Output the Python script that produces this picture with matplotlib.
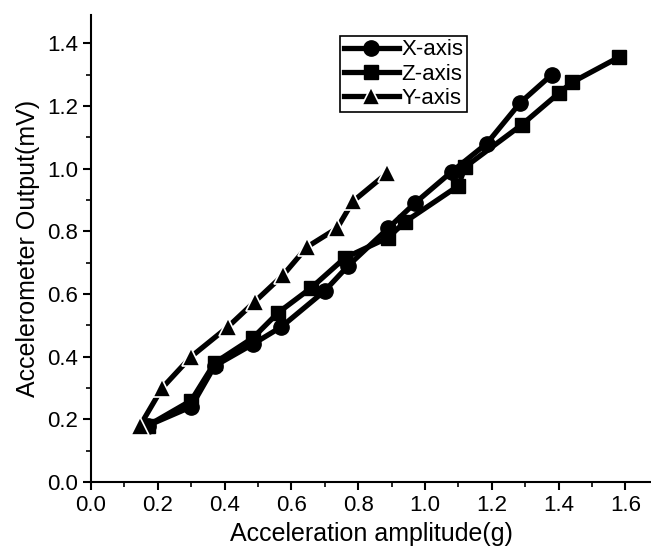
import matplotlib
matplotlib.use('Agg')
import matplotlib.pyplot as plt
from matplotlib.ticker import MultipleLocator

plt.rcParams['font.family'] = ['Liberation Sans', 'DejaVu Sans']

# X-axis (circles)
x_acc = [0.17, 0.30, 0.37, 0.485, 0.57, 0.70, 0.77, 0.89, 0.97, 1.08, 1.185, 1.285, 1.38]
x_out = [0.18, 0.24, 0.37, 0.44, 0.495, 0.61, 0.69, 0.81, 0.89, 0.99, 1.08, 1.21, 1.30]

# Z-axis (squares)
z_acc = [0.17, 0.30, 0.37, 0.485, 0.56, 0.66, 0.76, 0.89, 0.94, 1.10, 1.12, 1.29, 1.40, 1.44, 1.58]
z_out = [0.18, 0.26, 0.38, 0.46, 0.54, 0.62, 0.715, 0.78, 0.83, 0.945, 1.005, 1.14, 1.24, 1.275, 1.355]

# Y-axis (triangles)
y_acc = [0.147, 0.213, 0.30, 0.41, 0.49, 0.575, 0.647, 0.737, 0.784, 0.886]
y_out = [0.18, 0.30, 0.40, 0.495, 0.575, 0.66, 0.75, 0.81, 0.895, 0.985]

fig = plt.figure(figsize=(6.51, 5.54), dpi=100)
ax = fig.add_axes([91/651, 72/554, 560/651, 467/554])

ax.plot(x_acc, x_out, color='black', lw=3.8, marker='o', ms=11, label='X-axis')
ax.plot(z_acc, z_out, color='black', lw=3.8, marker='s', ms=10.5, label='Z-axis')
ax.plot(y_acc, y_out, color='black', lw=3.8, marker='^', ms=12.5,
        mec='white', mew=1.2, label='Y-axis')

ax.set_xlim(0, 560/334)
ax.set_ylim(0, 1.49)
ax.xaxis.set_major_locator(MultipleLocator(0.2))
ax.xaxis.set_minor_locator(MultipleLocator(0.1))
ax.yaxis.set_major_locator(MultipleLocator(0.2))
ax.yaxis.set_minor_locator(MultipleLocator(0.1))
ax.xaxis.set_major_formatter(plt.FormatStrFormatter('%.1f'))
ax.yaxis.set_major_formatter(plt.FormatStrFormatter('%.1f'))

ax.spines['top'].set_visible(False)
ax.spines['right'].set_visible(False)
ax.spines['left'].set_linewidth(1.5)
ax.spines['bottom'].set_linewidth(1.5)
ax.tick_params(which='major', length=6, width=1.5, labelsize=16, direction='out')
ax.tick_params(which='minor', length=3.5, width=1.2, direction='out')

ax.set_xlabel('Acceleration amplitude(g)', fontsize=18, labelpad=4)
ax.set_ylabel('Accelerometer Output(mV)', fontsize=18, labelpad=5)

leg = ax.legend(loc='upper left', bbox_to_anchor=(0.445, 0.955), fontsize=16,
                handlelength=2.5, handletextpad=0.1, borderpad=0.15,
                labelspacing=0.15, fancybox=False, framealpha=1,
                edgecolor='black', borderaxespad=0)
leg.get_frame().set_linewidth(1.2)

fig.savefig('out.png', dpi=100)
